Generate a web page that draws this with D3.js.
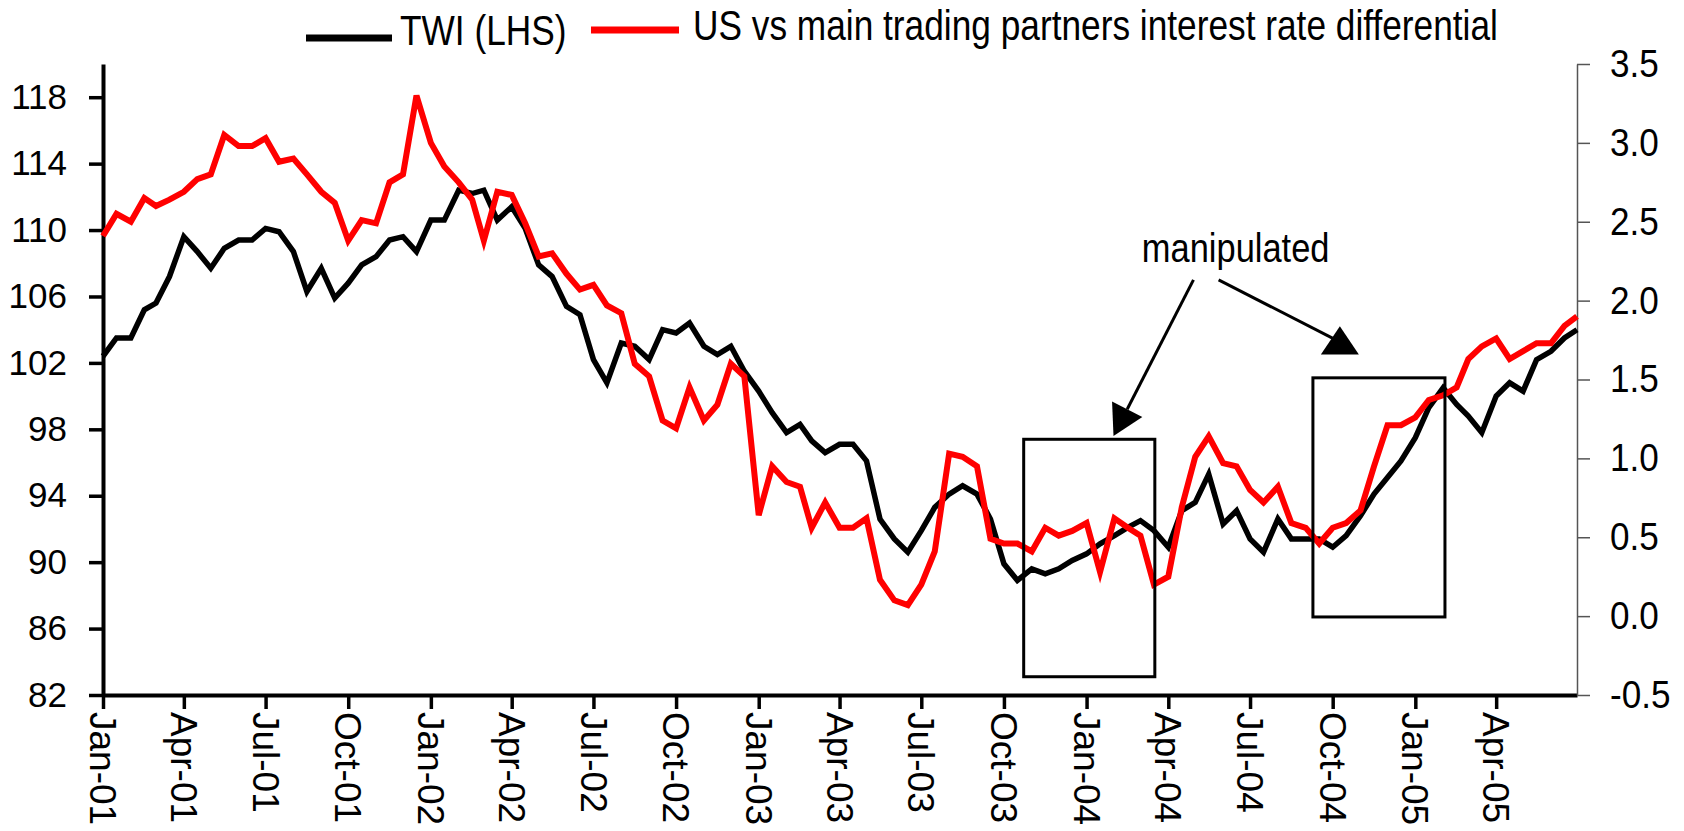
<!DOCTYPE html>
<html>
<head>
<meta charset="utf-8">
<script src="https://cdn.jsdelivr.net/npm/d3@7"></script>
<style>
  body { margin: 0; background: #fff; }
  svg text { font-family: "Liberation Sans", Arial, sans-serif; fill: #000; }
</style>
</head>
<body>
<div id="canvas"></div>
<script>
// sample dates: 1st and 16th of every month, Jan-01 .. Jun-05, plus last day
const dates = d3.timeMonth.range(new Date(2001, 0, 1), new Date(2005, 6, 1))
  .flatMap(m => [m, new Date(m.getFullYear(), m.getMonth(), 16)])
  .concat([new Date(2005, 5, 30)])

// TWI (left axis)
const twi = [
  102.4, 103.5, 103.5, 105.2, 105.6, 107.2, 109.6, 108.7, 107.7, 108.9, 109.4, 109.4,
  110.1, 109.9, 108.7, 106.3, 107.7, 105.9, 106.8, 107.9, 108.4, 109.4, 109.6, 108.7,
  110.6, 110.6, 112.4, 112.2, 112.4, 110.6, 111.4, 110.1, 107.9, 107.2, 105.4, 104.9,
  102.2, 100.8, 103.2, 103.0, 102.2, 104.0, 103.8, 104.4, 103.0, 102.5, 103.0, 101.5,
  100.3, 99.0, 97.8, 98.3, 97.3, 96.6, 97.1, 97.1, 96.1, 92.6, 91.4, 90.6,
  91.9, 93.3, 94.1, 94.6, 94.1, 92.6, 89.9, 88.9, 89.6, 89.3, 89.6, 90.1,
  90.5, 91.1, 91.6, 92.1, 92.5, 91.9, 90.9, 93.1, 93.6, 95.3, 92.3, 93.1,
  91.4, 90.6, 92.6, 91.4, 91.4, 91.4, 90.9, 91.6, 92.8, 94.1, 95.1, 96.1,
  97.5, 99.3, 100.5, 99.5, 98.8, 97.8, 100.0, 100.8, 100.3, 102.2, 102.7, 103.5,
  104.0
]

// US vs main trading partners interest rate differential (right axis)
const diff = [
  2.41, 2.55, 2.50, 2.65, 2.60, 2.64, 2.69, 2.77, 2.80, 3.05, 2.98, 2.98,
  3.03, 2.88, 2.90, 2.80, 2.69, 2.62, 2.38, 2.51, 2.49, 2.75, 2.80, 3.30,
  3.00, 2.85, 2.75, 2.64, 2.38, 2.69, 2.67, 2.49, 2.28, 2.30, 2.17, 2.07,
  2.10, 1.97, 1.92, 1.60, 1.52, 1.24, 1.19, 1.45, 1.24, 1.34, 1.60, 1.52,
  0.64, 0.95, 0.85, 0.82, 0.56, 0.72, 0.56, 0.56, 0.62, 0.23, 0.10, 0.07,
  0.20, 0.41, 1.03, 1.01, 0.95, 0.49, 0.46, 0.46, 0.41, 0.56, 0.51, 0.54,
  0.59, 0.28, 0.62, 0.56, 0.51, 0.20, 0.25, 0.69, 1.01, 1.14, 0.97, 0.95,
  0.80, 0.72, 0.82, 0.59, 0.56, 0.46, 0.56, 0.59, 0.67, 0.95, 1.21, 1.21,
  1.26, 1.37, 1.40, 1.45, 1.63, 1.71, 1.76, 1.63, 1.68, 1.73, 1.73, 1.84,
  1.90
]

const xTickLabels = ['Jan-01', 'Apr-01', 'Jul-01', 'Oct-01', 'Jan-02', 'Apr-02', 'Jul-02', 'Oct-02',
  'Jan-03', 'Apr-03', 'Jul-03', 'Oct-03', 'Jan-04', 'Apr-04', 'Jul-04', 'Oct-04', 'Jan-05', 'Apr-05']
const leftTicks = [82, 86, 90, 94, 98, 102, 106, 110, 114, 118]
const rightTicks = [-0.5, 0, 0.5, 1, 1.5, 2, 2.5, 3, 3.5]

const seriesNames = ['TWI (LHS)', 'US vs main trading partners interest rate differential']
const seriesColors = ['#000000', '#ff0000']

// boxes and arrows, in date / left-axis units
const boxes = [
  { from: '2003-10-23', to: '2004-03-17', top: 97.4, bottom: 83.1 },
  { from: '2004-09-09', to: '2005-02-03', top: 101.1, bottom: 86.7 }
]
const noteText = { label: 'manipulated', date: '2004-06-15', value: 108.1 }

const width = 1684
const height = 831
const margin = { top: 64, right: 107, bottom: 136, left: 103 }
const narrow = 0.84 // condensed look of the legend / note font

const parseTick = d3.timeParse('%b-%y')
const parseDay = d3.timeParse('%Y-%m-%d')

const svg = d3.select('#canvas')
  .append('svg')
    .attr('width', width)
    .attr('height', height)

const x = d3.scaleTime()
  .domain([new Date(2001, 0, 1), new Date(2005, 5, 30)])
  .range([margin.left, width - margin.right])

const yL = d3.scaleLinear()
  .domain([82, 120])
  .range([height - margin.bottom, margin.top])

const yR = d3.scaleLinear()
  .domain([-0.5, 3.5])
  .range([height - margin.bottom, margin.top])

// axes
const xAxis = svg.append('g')
  .attr('transform', `translate(0, ${height - margin.bottom})`)
  .call(d3.axisBottom(x)
    .tickValues(xTickLabels.map(parseTick))
    .tickFormat((d, i) => xTickLabels[i])
    .tickSize(14)
    .tickSizeOuter(0))
xAxis.select('.domain').attr('stroke-width', 4).attr('stroke', '#000')
xAxis.selectAll('.tick line').attr('stroke-width', 3.5).attr('stroke', '#000')
xAxis.selectAll('.tick text')
  .attr('x', 0)
  .attr('y', 0)
  .attr('dy', '0.36em')
  .attr('transform', 'translate(0, 17) rotate(90)')
  .style('text-anchor', 'start')
  .style('font-size', '37px')

const leftAxis = svg.append('g')
  .attr('transform', `translate(${margin.left}, 0)`)
  .call(d3.axisLeft(yL)
    .tickValues(leftTicks)
    .tickSize(14)
    .tickSizeOuter(0)
    .tickPadding(22))
leftAxis.select('.domain').attr('stroke-width', 4).attr('stroke', '#000')
leftAxis.selectAll('.tick line').attr('stroke-width', 3.5).attr('stroke', '#000')
leftAxis.selectAll('.tick text').style('font-size', '35px')

const rightAxis = svg.append('g')
  .attr('transform', `translate(${width - margin.right}, 0)`)
  .call(d3.axisRight(yR)
    .tickValues(rightTicks)
    .tickFormat(d => d.toFixed(1))
    .tickSize(13)
    .tickSizeOuter(0))
rightAxis.select('.domain').attr('stroke-width', 1.5).attr('stroke', '#555')
rightAxis.selectAll('.tick line').attr('stroke-width', 1.5).attr('stroke', '#555')
rightAxis.selectAll('.tick text')
  .attr('x', 0)
  .attr('transform', 'translate(33, 0) scale(0.9, 1)')
  .style('font-size', '39px')

// lines
const lineL = d3.line()
  .x((d, i) => x(dates[i]))
  .y(d => yL(d))
const lineR = d3.line()
  .x((d, i) => x(dates[i]))
  .y(d => yR(d))

svg.append('path')
  .datum(twi)
  .attr('fill', 'none')
  .attr('stroke', seriesColors[0])
  .attr('stroke-width', 5.5)
  .attr('d', lineL)

svg.append('path')
  .datum(diff)
  .attr('fill', 'none')
  .attr('stroke', seriesColors[1])
  .attr('stroke-width', 6)
  .attr('d', lineR)

// annotation boxes
svg.selectAll('rect.box')
  .data(boxes)
  .enter()
  .append('rect')
    .attr('class', 'box')
    .attr('x', d => x(parseDay(d.from)))
    .attr('y', d => yL(d.top))
    .attr('width', d => x(parseDay(d.to)) - x(parseDay(d.from)))
    .attr('height', d => yL(d.bottom) - yL(d.top))
    .attr('fill', 'none')
    .attr('stroke', '#000')
    .attr('stroke-width', 3)

// arrow 1: from label down-left to first box, head along the line
const a1s = [x(parseDay('2004-04-29')), yL(107.0)]
const a1e = [x(parseDay('2004-01-31')), yL(97.6)]
const ang = Math.atan2(a1e[1] - a1s[1], a1e[0] - a1s[0])
const headLen = 30
const headHalf = 17
const bx = a1e[0] - headLen * Math.cos(ang)
const by = a1e[1] - headLen * Math.sin(ang)
svg.append('line')
  .attr('x1', a1s[0]).attr('y1', a1s[1])
  .attr('x2', bx).attr('y2', by)
  .attr('stroke', '#000').attr('stroke-width', 3)
svg.append('path')
  .attr('d', `M${a1e[0]},${a1e[1]}L${bx + headHalf * Math.sin(ang)},${by - headHalf * Math.cos(ang)}L${bx - headHalf * Math.sin(ang)},${by + headHalf * Math.cos(ang)}Z`)
  .attr('fill', '#000')

// arrow 2: from label down-right, ends in an upward triangle above second box
const a2s = [x(parseDay('2004-05-27')), yL(107.0)]
const a2e = [x(parseDay('2004-10-04')), yL(103.4)]
svg.append('line')
  .attr('x1', a2s[0]).attr('y1', a2s[1])
  .attr('x2', a2e[0]).attr('y2', a2e[1])
  .attr('stroke', '#000').attr('stroke-width', 3)
const apex = [x(parseDay('2004-10-09')), yL(104.2)]
const baseY = yL(102.5)
svg.append('path')
  .attr('d', `M${apex[0]},${apex[1]}L${apex[0] + 19},${baseY}L${apex[0] - 19},${baseY}Z`)
  .attr('fill', '#000')

svg.append('text')
  .attr('transform', `translate(${x(parseDay(noteText.date))}, ${yL(noteText.value)}) scale(${narrow}, 1)`)
  .attr('text-anchor', 'middle')
  .style('font-size', '41px')
  .text(noteText.label)

// legend
const legend = [
  { x1: 306, x2: 392, y: 38, tx: 400, ty: 45 },
  { x1: 591, x2: 679, y: 30, tx: 693, ty: 40 }
]
const lg = svg.append('g')
lg.selectAll('line')
  .data(legend)
  .enter()
  .append('line')
    .attr('x1', d => d.x1)
    .attr('x2', d => d.x2)
    .attr('y1', d => d.y)
    .attr('y2', d => d.y)
    .attr('stroke', (d, i) => seriesColors[i])
    .attr('stroke-width', 7)
lg.selectAll('text')
  .data(legend)
  .enter()
  .append('text')
    .attr('transform', d => `translate(${d.tx}, ${d.ty}) scale(${narrow}, 1)`)
    .style('font-size', '42px')
    .text((d, i) => seriesNames[i])
</script>
</body>
</html>
